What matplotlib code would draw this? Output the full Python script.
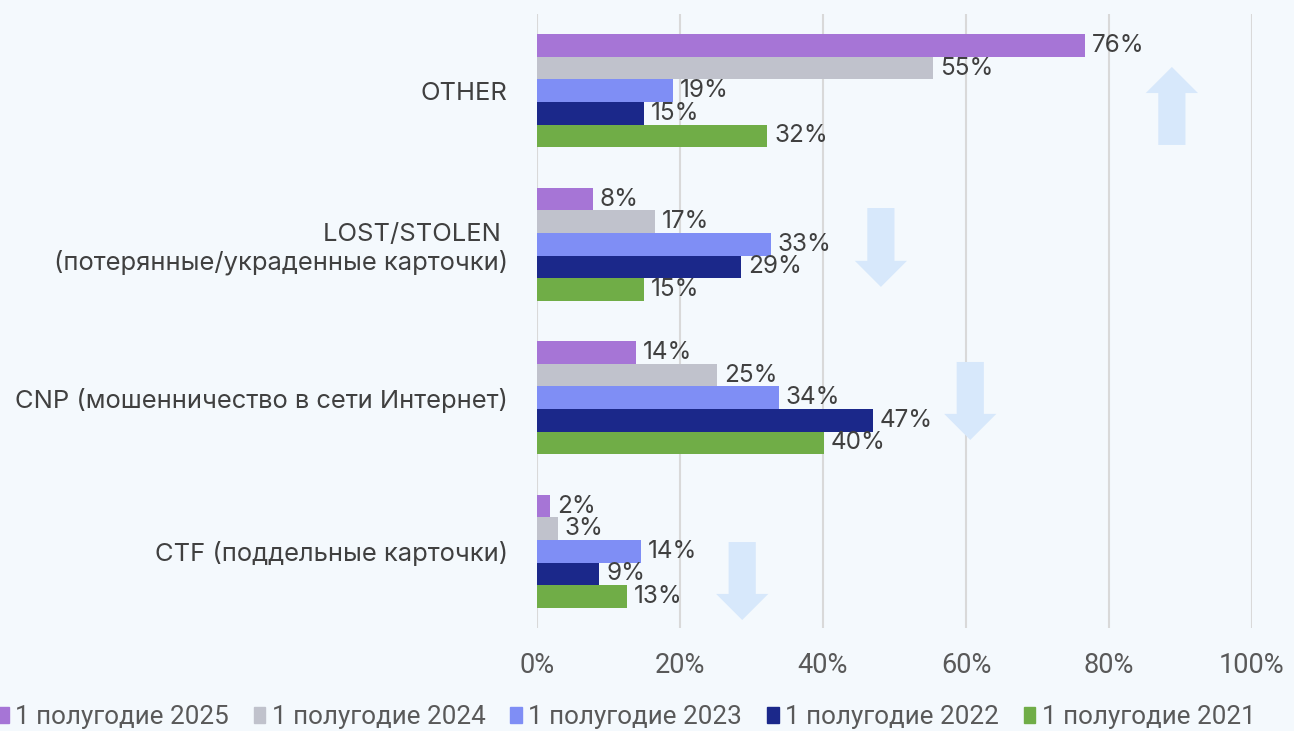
import numpy as np
import matplotlib.pyplot as plt
from matplotlib.patches import FancyArrow, Patch

categories = ['OTHER',
              'LOST/STOLEN \n(потерянные/украденные карточки)',
              'CNP (мошенничество в сети Интернет)',
              'CTF (поддельные карточки)']
series = ['1 полугодие 2025', '1 полугодие 2024', '1 полугодие 2023',
          '1 полугодие 2022', '1 полугодие 2021']
v2025 = [76.6, 7.8, 13.8, 1.8]
v2024 = [55.4, 16.5, 25.2, 2.9]
v2023 = [19.0, 32.7, 33.8, 14.5]
v2022 = [15.0, 28.5, 47.0, 8.7]
v2021 = [32.2, 15.0, 40.1, 12.6]
labels2025 = ['76%', '8%', '14%', '2%']
labels2024 = ['55%', '17%', '25%', '3%']
labels2023 = ['19%', '33%', '34%', '14%']
labels2022 = ['15%', '29%', '47%', '9%']
labels2021 = ['32%', '15%', '40%', '13%']
ticks = [0, 20, 40, 60, 80, 100]

colors = ['#A675D6', '#C0C2CC', '#7F8EF5', '#1B288A', '#70AD47']
bg = '#F4F9FD'
arrow_c = '#D7E8FB'

values = [v2025, v2024, v2023, v2022, v2021]
labels = [labels2025, labels2024, labels2023, labels2022, labels2021]

fig = plt.figure(figsize=(12.94, 7.31), dpi=100, facecolor=bg)
ax = fig.add_axes([0.415, 1 - 628 / 731, 0.5525, 614 / 731])
ax.set_facecolor(bg)

y = np.arange(len(categories))
h = 0.147
for i, (vals, labs) in enumerate(zip(values, labels)):
    pos = y - 2 * h + i * h
    ax.barh(pos, vals, height=h, color=colors[i], zorder=3)
    for p, v, t in zip(pos, vals, labs):
        ax.annotate(t, (v, p), xytext=(5, 0), textcoords='offset points',
                    va='center', ha='left', fontsize=17.5, color='#404040',
                    family='Inter', zorder=4)

# decorative trend arrows
arrows = [(88.8, 0.353, -0.508), (48.1, 0.764, 0.514),
          (60.6, 1.767, 0.508), (28.7, 2.94, 0.508)]
for ax_x, ay, dy in arrows:
    ax.add_patch(FancyArrow(ax_x, ay, 0, dy, width=3.8, head_width=7.3,
                            head_length=0.17, length_includes_head=True,
                            color=arrow_c, lw=0, zorder=2))

ax.set_xlim(0, 100)
ax.set_ylim(3.5, -0.5)
ax.set_yticks(y)
ax.set_yticklabels(categories, fontsize=18.4, color='#404040', family='Inter')
ax.set_xticks(ticks)
ax.set_xticklabels([f'{t}%' for t in ticks], fontsize=19.5, color='#595959',
                   family='Roboto')
ax.tick_params(axis='y', length=0, pad=21)
ax.tick_params(axis='x', length=0, pad=17)
ax.grid(axis='x', color='#D9D9D9', lw=1.5, zorder=0)
for s in ax.spines.values():
    s.set_visible(False)

handles = [Patch(color=c) for c in colors]
fig.legend(handles, series, loc='center', bbox_to_anchor=(0.484, 1 - 717 / 731),
           ncol=5, frameon=False, handlelength=0.45, handleheight=0.6,
           handletextpad=0.25, columnspacing=0.95,
           prop={'family': 'Roboto', 'size': 18.7}, labelcolor='#595959')

fig.savefig('out.png', dpi=100, facecolor=bg)
